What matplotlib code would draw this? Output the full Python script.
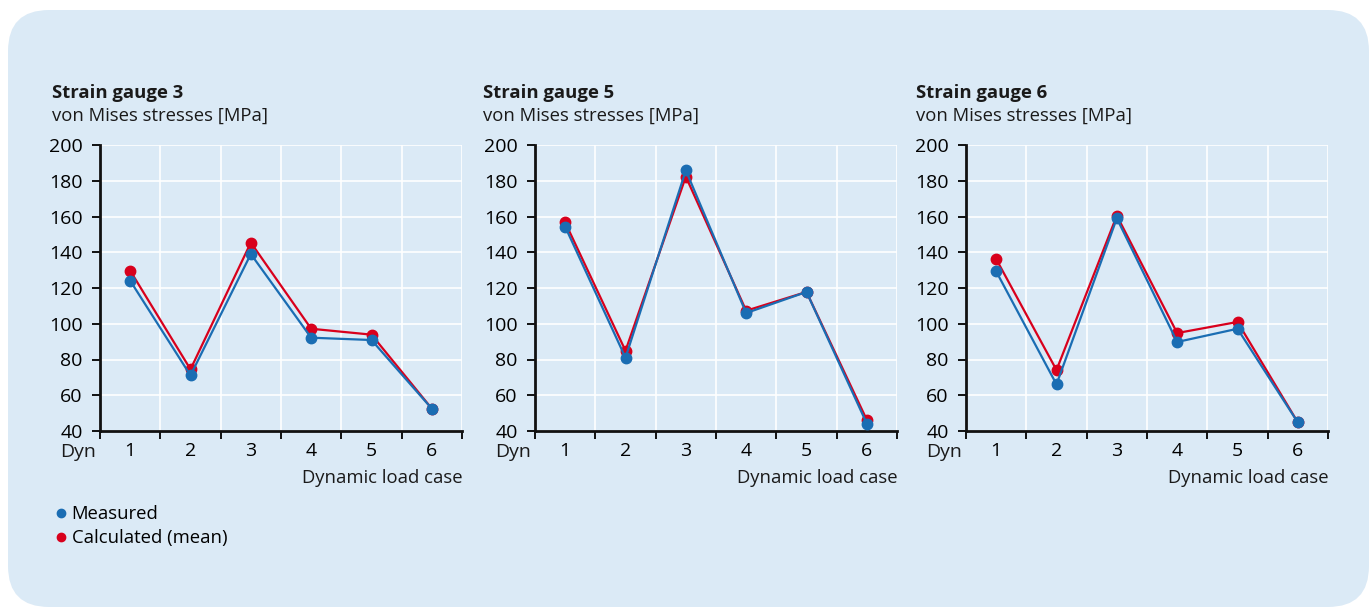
import matplotlib.pyplot as plt
from matplotlib.patches import FancyBboxPatch
from matplotlib.lines import Line2D

plt.rcParams['font.family'] = ['Open Sans', 'DejaVu Sans']

# von Mises stresses [MPa] per dynamic load case 1..6
load_cases = [1, 2, 3, 4, 5, 6]
gauge_names = ['Strain gauge 3', 'Strain gauge 5', 'Strain gauge 6']
measured_sg3 = [124.1, 71.1, 139.0, 92.2, 90.9, 52.5]
calculated_sg3 = [129.7, 74.5, 145.4, 97.2, 93.9, 52.5]
measured_sg5 = [154.3, 81.0, 185.8, 106.0, 117.8, 44.1]
calculated_sg5 = [156.7, 84.9, 182.3, 107.3, 117.8, 46.2]
measured_sg6 = [129.3, 66.1, 159.0, 89.8, 97.2, 44.8]
calculated_sg6 = [136.2, 74.1, 160.5, 94.8, 101.0, 44.8]

measured = [measured_sg3, measured_sg5, measured_sg6]
calculated = [calculated_sg3, calculated_sg5, calculated_sg6]

blue = '#1a6db3'
red = '#d8001c'
panel_bg = '#dbeaf6'
W, H = 1369, 607

fig = plt.figure(figsize=(W / 100, H / 100), dpi=100)
fig.patch.set_facecolor('white')

# rounded light-blue panel behind everything
box = FancyBboxPatch((8 / W, 0.0), (W - 8) / W, (H - 10) / H,
                     boxstyle='round,pad=0,rounding_size=0.03',
                     transform=fig.transFigure, facecolor=panel_bg,
                     edgecolor='none', mutation_aspect=W / H, zorder=-5)
fig.patches.append(box)

lefts = [100, 535, 966]
title_x = [52, 483, 916]
fs = 13.3

for i in range(3):
    ax = fig.add_axes([lefts[i] / W, (H - 431) / H, 362 / W, 286 / H])
    ax.patch.set_alpha(0)
    x = [c - 0.5 for c in load_cases]
    ax.plot(x, calculated[i], color=red, lw=1.6, marker='o', ms=7.5, zorder=3,
            clip_on=False)
    ax.plot(x, measured[i], color=blue, lw=1.6, marker='o', ms=7.5, zorder=4,
            clip_on=False)

    ax.set_xlim(0, 6)
    ax.set_ylim(40, 200)
    ax.set_yticks(range(40, 201, 20))
    ax.set_xticks(range(0, 7))
    ax.set_xticklabels([])
    ax.set_xticks(x, minor=True)
    ax.set_xticklabels([str(c) for c in load_cases], minor=True)
    ax.tick_params(axis='x', which='minor', length=0, pad=8, labelsize=14)
    ax.tick_params(axis='x', which='major', length=6, width=1.3, direction='out')
    ax.tick_params(axis='y', length=6, width=1.3, direction='out', pad=6.5,
                   labelsize=14)
    ax.grid(True, which='major', color='white', lw=1.2)
    for s in ['top', 'right']:
        ax.spines[s].set_visible(False)
    for s in ['left', 'bottom']:
        ax.spines[s].set_linewidth(2)
        ax.spines[s].set_color('#111111')
    ax.set_axisbelow(True)

    ax.text(-0.01, -0.072, 'Dyn', transform=ax.transAxes, ha='right', va='center',
            fontsize=14, color='#1a1a1a')
    ax.text(1.003, -0.165, 'Dynamic load case', transform=ax.transAxes,
            ha='right', va='center', fontsize=fs, color='#1a1a1a')
    tx = (title_x[i] - lefts[i]) / 362
    ax.text(tx, 1 + 52 / 286, gauge_names[i], transform=ax.transAxes,
            ha='left', va='center', fontsize=fs, fontweight='bold',
            color='#1a1a1a')
    ax.text(tx, 1 + 29 / 286, 'von Mises stresses [MPa]',
            transform=ax.transAxes, ha='left', va='center', fontsize=fs,
            color='#1a1a1a')

# legend
handles = [Line2D([], [], ls='none', marker='o', ms=6, color=blue),
           Line2D([], [], ls='none', marker='o', ms=6, color=red)]
fig.legend(handles, ['Measured', 'Calculated (mean)'], loc='upper left',
           bbox_to_anchor=(55 / W, 1 - 505 / H), frameon=False, fontsize=fs,
           handlelength=0.6, handletextpad=0.3, labelspacing=0.35,
           borderaxespad=0, borderpad=0)

fig.savefig('out.png', dpi=100, facecolor='white')
